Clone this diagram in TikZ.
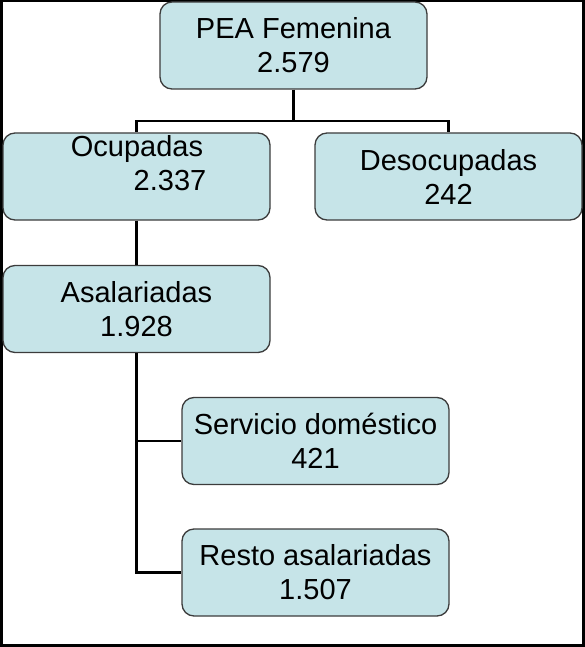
\documentclass[tikz,border=0pt]{standalone}
\usepackage{fontspec}
\setmainfont{Liberation Sans}
\definecolor{boxfill}{RGB}{198,228,232}
\definecolor{boxline}{RGB}{60,60,60}
\begin{document}
\begin{tikzpicture}[x=1pt,y=-1pt,
  box/.style={draw=boxline,line width=1.3pt,fill=boxfill,rounded corners=12pt,
    minimum width=267pt,minimum height=87pt,inner sep=0pt,align=center,
    font=\fontsize{29}{34}\selectfont},
  txt/.style={inner sep=0pt,align=center,font=\fontsize{29}{34}\selectfont},
  conn/.style={draw=black,line width=2.6pt},
  frame/.style={draw=black,line width=2.4pt}]
\useasboundingbox (0,0) rectangle (585,647);
\draw[frame] (1.5,1) rectangle (583.5,645.5);
\node[box] (pea) at (293.5,45.5) {PEA Femenina\\2.579};
\node[box] (ocu) at (136.5,176.5) {};
\node[txt] (ocutxt) at (137,163.5) {Ocupadas\\\hspace*{66pt}2.337};
\node[box] (des) at (448.5,176.5) {Desocupadas\\242};
\node[box] (asa) at (136.5,309) {Asalariadas\\1.928};
\node[box] (ser) at (315.5,441) {Servicio doméstico\\421};
\node[box] (res) at (315.5,572.5) {Resto asalariadas\\1.507};
\coordinate (j1) at (293.5,121);
\draw[conn] (pea.south) -- (j1) -| (ocu.north);
\draw[conn] (j1) -| (des.north);
\draw[conn] (ocu.south) -- (asa.north);
\draw[conn] (asa.south) |- (ser.west);
\draw[conn] (asa.south) |- (res.west);
\end{tikzpicture}
\end{document}
